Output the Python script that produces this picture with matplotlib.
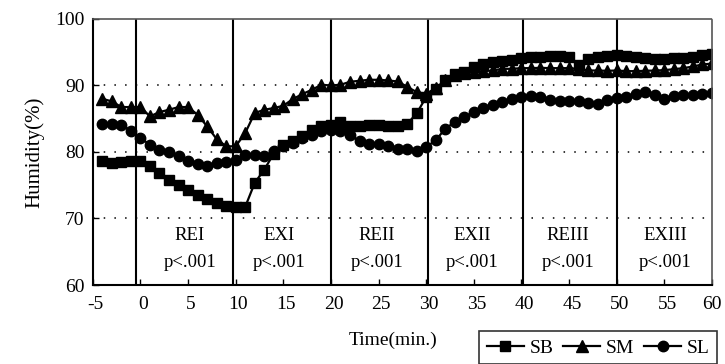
import matplotlib
matplotlib.use("Agg")
import matplotlib.pyplot as plt
from matplotlib.transforms import ScaledTranslation

plt.rcParams["font.family"] = ["Liberation Serif", "DejaVu Serif"]
plt.rcParams["axes.unicode_minus"] = False

# minutes from -4 to 60
minutes = list(range(-4, 61))

sb = [78.6, 78.35, 78.45, 78.7, 78.7, 77.85, 76.85, 75.85, 75.1, 74.35,
      73.6, 72.95, 72.35, 71.85, 71.75, 71.75, 75.35, 77.35, 79.75, 81.1,
      81.6, 82.45, 83.35, 83.85, 84.1, 84.45, 83.95, 83.85, 84.1, 84.1,
      83.95, 83.85, 84.2, 85.8, 88.25, 89.5, 90.75, 91.65, 92.0, 92.75,
      93.15, 93.5, 93.75, 93.85, 94.1, 94.25, 94.35, 94.5, 94.5, 94.25,
      93.0, 94.0, 94.25, 94.5, 94.6, 94.5, 94.35, 94.15, 94.0, 94.0,
      94.1, 94.2, 94.35, 94.65, 94.75]

sm = [88.0, 87.6, 86.75, 86.75, 86.75, 85.35, 86.0, 86.35, 86.75, 86.75,
      85.6, 83.85, 81.95, 80.85, 80.85, 82.85, 85.85, 86.35, 86.6, 86.95,
      87.95, 88.7, 89.35, 90.1, 90.0, 90.1, 90.55, 90.7, 90.85, 90.85,
      90.75, 90.6, 89.8, 89.0, 88.75, 89.6, 90.75, 91.5, 91.85, 92.0,
      92.15, 92.25, 92.5, 92.5, 92.6, 92.6, 92.65, 92.6, 92.6, 92.6,
      92.5, 92.25, 92.25, 92.2, 92.25, 92.15, 92.15, 92.2, 92.25, 92.3,
      92.45, 92.6, 92.85, 93.15, 93.3]

sl = [84.2, 84.2, 84.1, 83.2, 82.1, 81.1, 80.35, 79.95, 79.35, 78.6,
      78.25, 77.95, 78.35, 78.45, 78.85, 79.6, 79.6, 79.35, 80.1, 80.85,
      81.35, 82.1, 82.6, 83.1, 83.25, 83.1, 82.6, 81.6, 81.25, 81.25,
      80.85, 80.45, 80.4, 80.15, 80.75, 81.75, 83.5, 84.5, 85.25, 86.0,
      86.65, 87.0, 87.5, 88.0, 88.25, 88.4, 88.25, 87.75, 87.7, 87.7,
      87.65, 87.35, 87.15, 87.75, 88.15, 88.2, 88.65, 89.0, 88.5, 88.0,
      88.4, 88.5, 88.6, 88.7, 88.9]

# phase boundaries and labels
phase_edges = [-0.5, 9.7, 20, 30.2, 40.2, 50]
phase_centres = [5.2, 14.6, 24.8, 34.8, 44.9, 55.1]
phase_names = ["REI", "EXI", "REII", "EXII", "REIII", "EXIII"]
phase_p = ["p<.001"] * 6

fig = plt.figure(figsize=(7.25, 3.64), dpi=100)
ax = fig.add_axes([0.128, 0.217, 0.854, 0.731])

ax.plot(minutes, sb, color="black", lw=1.6, marker="s", ms=7.5, label="SB")
ax.plot(minutes, sm, color="black", lw=1.6, marker="^", ms=8, label="SM")
ax.plot(minutes, sl, color="black", lw=1.6, marker="o", ms=7.5, label="SL")

for x in phase_edges:
    ax.axvline(x, color="black", lw=1.5, zorder=1)
for y in [70, 80, 90]:
    ax.axhline(y, color="black", lw=1.1, ls=(0, (1, 6)), zorder=0)

for x, name, p in zip(phase_centres, phase_names, phase_p):
    ax.text(x, 67.4, name, ha="center", va="center", fontsize=13.5)
    ax.text(x, 63.4, p, ha="center", va="center", fontsize=13.5)

ax.set_xlim(-5, 60)
ax.set_ylim(60, 100)
ax.set_xticks(range(-5, 61, 5))
ax.set_yticks(range(60, 101, 10))
ax.tick_params(axis="both", direction="in", length=4, width=1, labelsize=14)
ax.tick_params(axis="x", pad=8)
ax.tick_params(axis="y", pad=6)

# x tick labels sit a little to the right of their ticks
shift = ScaledTranslation(2 / 72, 0, fig.dpi_scale_trans)
for lbl in ax.get_xticklabels()[:-1]:
    lbl.set_transform(lbl.get_transform() + shift)

ax.spines["left"].set_linewidth(1.5)
ax.spines["bottom"].set_linewidth(1.5)
for side in ["top", "right"]:
    ax.spines[side].set_linestyle((0, (1, 1)))
    ax.spines[side].set_color("#555555")
    ax.spines[side].set_linewidth(1.2)

ax.set_ylabel("Humidity(%)", fontsize=15, labelpad=8)
fig.text(0.542, 0.065, "Time(min.)", ha="center", va="center", fontsize=14)

leg = fig.legend(loc="lower right", bbox_to_anchor=(0.995, -0.012), ncol=3,
                 fontsize=14, frameon=True, fancybox=False, edgecolor="black",
                 handlelength=1.9, handletextpad=0.3, columnspacing=0.5,
                 borderpad=0.4, borderaxespad=0.2)
leg.get_frame().set_linewidth(1.2)

fig.savefig("out.png", dpi=100)
